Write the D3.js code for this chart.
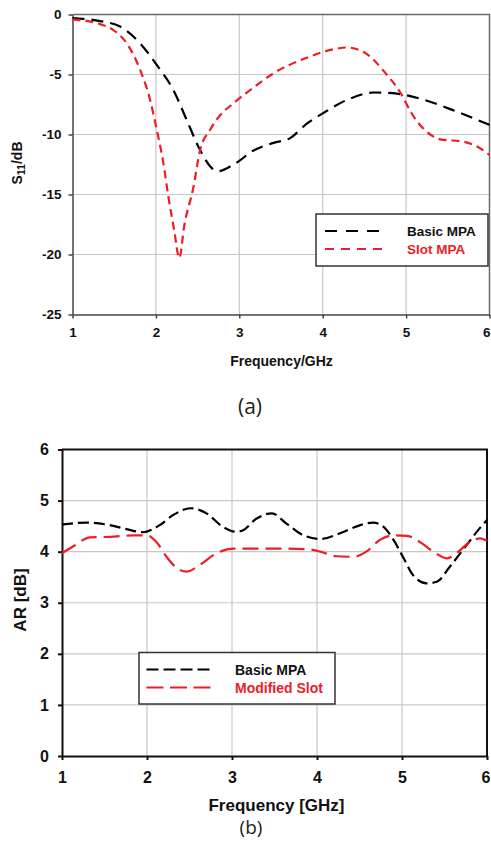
<!DOCTYPE html>
<html>
<head>
<meta charset="utf-8">
<script src="https://cdn.jsdelivr.net/npm/d3@7"></script>
<style>
  html, body { margin: 0; padding: 0; background: #fff; }
  svg { display: block; }
  .bold { font-family: "Liberation Sans", Arial, sans-serif; font-weight: bold; }
</style>
</head>
<body>
<svg id="fig" width="491" height="841"></svg>
<script>
// ---- (a) reflection coefficient S11 versus frequency ----
const s11Ticks = [0, -5, -10, -15, -20, -25];
const freqTicks = [1, 2, 3, 4, 5, 6];

const s11BasicFreq = [1.0, 1.33, 1.57, 1.81, 2.01, 2.21, 2.37, 2.53, 2.69, 2.75, 2.93, 3.0, 3.13, 3.41, 3.61, 3.81, 4.01, 4.33, 4.61, 4.89, 5.21, 5.61, 6.0];
const s11BasicVal  = [-0.3, -0.55, -1.0, -2.4, -4.2, -6.3, -8.8, -11.3, -12.9, -13.05, -12.5, -12.2, -11.5, -10.7, -10.3, -9.1, -8.2, -7.0, -6.5, -6.6, -7.1, -8.1, -9.2];

const s11SlotFreq = [1.0, 1.33, 1.49, 1.65, 1.81, 1.93, 2.01, 2.09, 2.15, 2.22, 2.28, 2.34, 2.45, 2.53, 2.65, 2.77, 2.93, 3.13, 3.41, 3.81, 4.13, 4.29, 4.53, 4.73, 4.93, 5.09, 5.29, 5.41, 5.69, 5.85, 6.0];
const s11SlotVal  = [-0.4, -0.8, -1.3, -2.4, -4.6, -7.1, -9.6, -12.4, -15.2, -18.0, -20.3, -17.6, -14.4, -11.3, -9.6, -8.4, -7.4, -6.3, -4.9, -3.6, -2.9, -2.75, -3.3, -4.7, -6.5, -8.5, -10.0, -10.4, -10.6, -11.0, -11.7];

const legendA = ["Basic MPA", "Slot MPA"];

// ---- (b) axial ratio versus frequency ----
const arTicks = [0, 1, 2, 3, 4, 5, 6];

const arBasicFreq = [1.0, 1.29, 1.53, 1.76, 1.95, 2.15, 2.31, 2.51, 2.70, 2.89, 3.05, 3.13, 3.29, 3.47, 3.64, 3.84, 4.04, 4.27, 4.51, 4.66, 4.78, 4.90, 5.02, 5.13, 5.29, 5.41, 5.56, 5.76, 5.92, 6.0];
const arBasicVal  = [4.53, 4.57, 4.53, 4.44, 4.38, 4.52, 4.72, 4.85, 4.75, 4.49, 4.39, 4.42, 4.65, 4.75, 4.55, 4.32, 4.25, 4.36, 4.52, 4.57, 4.49, 4.23, 3.87, 3.54, 3.38, 3.41, 3.70, 4.13, 4.47, 4.62];

const arSlotFreq = [1.0, 1.13, 1.33, 1.56, 1.84, 2.0, 2.11, 2.23, 2.35, 2.47, 2.62, 2.82, 3.02, 3.49, 3.88, 4.04, 4.23, 4.43, 4.58, 4.74, 4.90, 5.06, 5.21, 5.37, 5.53, 5.64, 5.80, 5.92, 6.0];
const arSlotVal  = [3.97, 4.10, 4.28, 4.29, 4.32, 4.32, 4.19, 3.90, 3.68, 3.61, 3.74, 3.97, 4.06, 4.06, 4.05, 4.00, 3.91, 3.90, 4.00, 4.23, 4.32, 4.31, 4.19, 4.00, 3.87, 3.97, 4.19, 4.26, 4.21];

const legendB = ["Basic MPA", "Modified Slot"];

const RED = "#ee1c25";
const svg = d3.select("#fig");

function zip(xs, ys) { return xs.map((x, i) => ({ x, y: ys[i] })); }

function panel(cfg) {
  const g = svg.append("g");
  const x = d3.scaleLinear().domain([1, 6]).range([cfg.left, cfg.right]);
  const y = d3.scaleLinear().domain(cfg.yDomain).range([cfg.bottom, cfg.top]);

  // grid
  g.append("g").selectAll("line").data(freqTicks.slice(1, -1)).join("line")
    .attr("x1", d => x(d)).attr("x2", d => x(d))
    .attr("y1", cfg.top).attr("y2", cfg.bottom)
    .attr("stroke", "#c8c8c8").attr("stroke-width", 1.2);
  g.append("g").selectAll("line").data(cfg.yTicks.filter(t => t !== cfg.yDomain[0] && t !== cfg.yDomain[1])).join("line")
    .attr("x1", cfg.left).attr("x2", cfg.right)
    .attr("y1", d => y(d)).attr("y2", d => y(d))
    .attr("stroke", "#c8c8c8").attr("stroke-width", 1.2);

  // frame (top/right)
  g.append("path")
    .attr("d", `M${cfg.left},${cfg.top}H${cfg.right}V${cfg.bottom}`)
    .attr("fill", "none").attr("stroke", cfg.frameColor).attr("stroke-width", cfg.frameWidth);

  // axes
  const xa = g.append("g").attr("transform", `translate(0,${cfg.bottom})`)
    .call(d3.axisBottom(x).tickValues(freqTicks).tickFormat(d3.format("d")).tickSizeInner(4).tickSizeOuter(0).tickPadding(cfg.xPad));
  const ya = g.append("g").attr("transform", `translate(${cfg.left},0)`)
    .call(d3.axisLeft(y).tickValues(cfg.yTicks).tickFormat(d3.format("d")).tickSizeInner(4).tickSizeOuter(0).tickPadding(cfg.yPad));
  [xa, ya].forEach(a => {
    a.select(".domain").attr("stroke", cfg.axisColor).attr("stroke-width", cfg.axisWidth);
    a.selectAll(".tick line").attr("stroke", cfg.axisColor).attr("stroke-width", cfg.axisWidth);
    a.selectAll("text").attr("class", "bold").attr("font-size", cfg.tickFont).attr("fill", "#111");
  });
  // keep the last frequency label inside the page edge
  xa.selectAll("text").filter(d => d === 6).attr("text-anchor", "end").attr("dx", 490 - cfg.right);
  ya.selectAll("text").text(d => d3.format("d")(d).replace("−", "-"));

  // curves
  const line = d3.line().x(d => x(d.x)).y(d => y(d.y)).curve(d3.curveMonotoneX);
  cfg.series.forEach(s => {
    g.append("path").datum(zip(s.fx, s.fy)).attr("d", line)
      .attr("fill", "none").attr("stroke", s.color).attr("stroke-width", 2.2)
      .attr("stroke-dasharray", s.dash);
  });

  // legend
  const L = cfg.legend;
  g.append("rect").attr("x", L.x).attr("y", L.y).attr("width", L.w).attr("height", L.h)
    .attr("fill", "#fff").attr("stroke", "#333").attr("stroke-width", 1.5);
  cfg.series.forEach((s, i) => {
    const yy = L.y + L.row0 + i * L.rowGap;
    g.append("line").attr("x1", L.lx1).attr("x2", L.lx2).attr("y1", yy).attr("y2", yy)
      .attr("stroke", s.color).attr("stroke-width", 2.2).attr("stroke-dasharray", s.legendDash);
    g.append("text").attr("class", "bold").attr("x", L.tx).attr("y", yy).attr("dy", "0.36em")
      .attr("font-size", L.font).attr("fill", s.color === RED ? RED : "#111").text(s.name);
  });
  return { x, y };
}

// panel (a)
panel({
  left: 72.5, right: 489.5, top: 14.5, bottom: 314.5,
  yDomain: [-25, 0], yTicks: s11Ticks,
  frameColor: "#6a6a6a", frameWidth: 1.5, axisColor: "#444", axisWidth: 1.5,
  tickFont: 13.5, xPad: 9, yPad: 7,
  series: [
    { name: legendA[0], fx: s11BasicFreq, fy: s11BasicVal, color: "#000", dash: "12,7", legendDash: "12,9" },
    { name: legendA[1], fx: s11SlotFreq, fy: s11SlotVal, color: RED, dash: "8,5", legendDash: "9,7" }
  ],
  legend: { x: 316, y: 214, w: 172, h: 52, row0: 17, rowGap: 18, lx1: 325, lx2: 385, tx: 407, font: 13.5 }
});

// panel (b)
panel({
  left: 62, right: 487, top: 449.5, bottom: 756,
  yDomain: [0, 6], yTicks: arTicks,
  frameColor: "#111", frameWidth: 2, axisColor: "#111", axisWidth: 2,
  tickFont: 16, xPad: 12, yPad: 9,
  series: [
    { name: legendB[0], fx: arBasicFreq, fy: arBasicVal, color: "#000", dash: "11,5", legendDash: "12,5" },
    { name: legendB[1], fx: arSlotFreq, fy: arSlotVal, color: RED, dash: "16,7", legendDash: "17,6.5" }
  ],
  legend: { x: 139, y: 652.5, w: 196, h: 51.5, row0: 17, rowGap: 18, lx1: 146.5, lx2: 213, tx: 235, font: 14 }
});

// axis titles
const ttlA = svg.append("text").attr("class", "bold").attr("font-size", 14).attr("fill", "#111")
  .attr("text-anchor", "middle").attr("transform", "translate(22,163) rotate(-90)");
ttlA.append("tspan").text("S");
ttlA.append("tspan").attr("font-size", 10.5).attr("dy", 3).text("11");
ttlA.append("tspan").attr("dy", -3).text("/dB");

svg.append("text").attr("class", "bold").attr("font-size", 14).attr("fill", "#111")
  .attr("text-anchor", "middle").attr("x", 281.5).attr("y", 366).text("Frequency/GHz");

svg.append("text").attr("class", "bold").attr("font-size", 17).attr("fill", "#111")
  .attr("text-anchor", "middle").attr("transform", "translate(26,600) rotate(-90)").text("AR [dB]");

svg.append("text").attr("class", "bold").attr("font-size", 17).attr("fill", "#111")
  .attr("text-anchor", "middle").attr("x", 276.5).attr("y", 811).text("Frequency [GHz]");

// sub-figure captions
svg.append("text").attr("font-family", "'Open Sans', 'Noto Sans', sans-serif").attr("font-size", 21)
  .attr("fill", "#222").attr("text-anchor", "middle").attr("x", 250).attr("y", 414).text("(a)");
svg.append("text").attr("font-family", "'Open Sans', 'Noto Sans', sans-serif").attr("font-size", 19)
  .attr("fill", "#222").attr("text-anchor", "middle").attr("x", 251).attr("y", 834).text("(b)");
</script>
</body>
</html>
